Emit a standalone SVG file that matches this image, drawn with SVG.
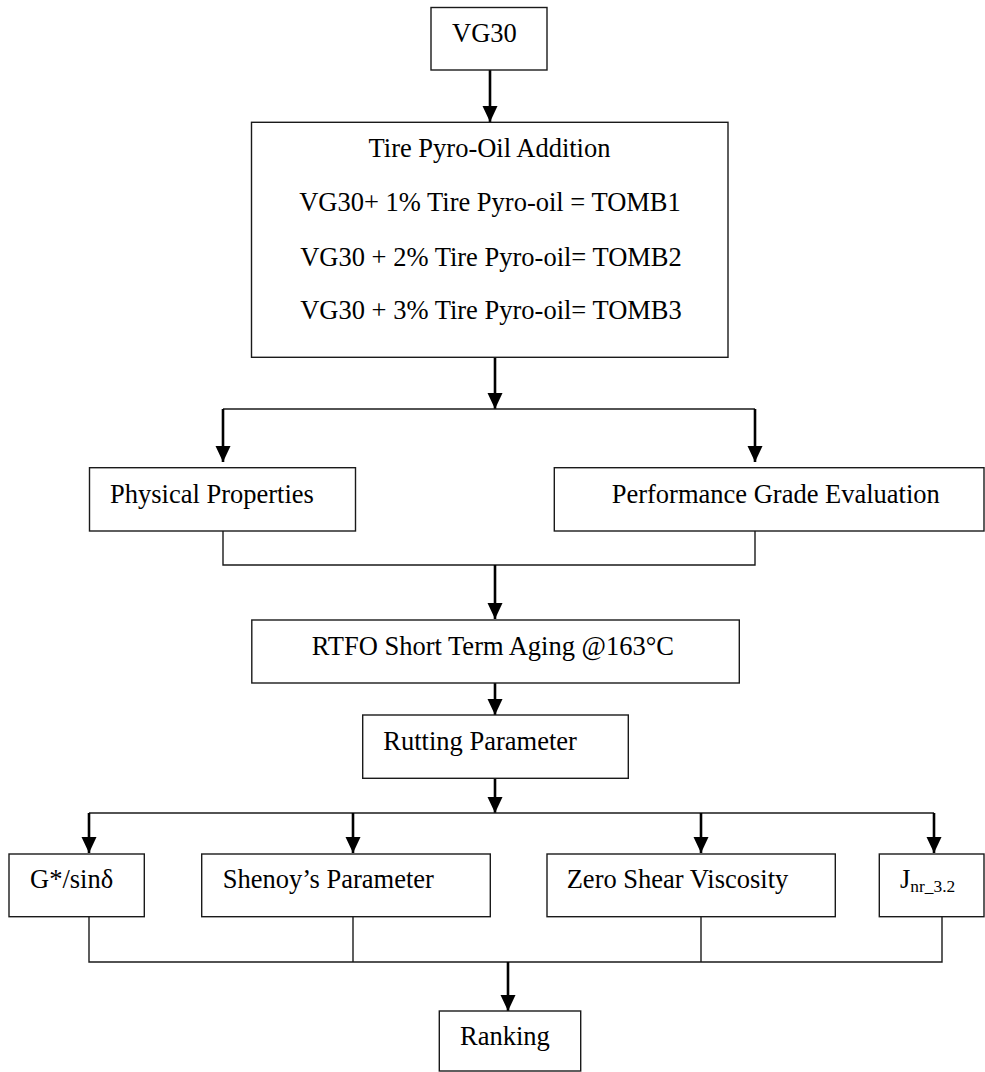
<svg xmlns="http://www.w3.org/2000/svg" width="985" height="1072" viewBox="0 0 985 1072" font-family="Liberation Serif, Times New Roman, Times, serif">
<style>
.box{fill:#fff;stroke:#1a1a1a;stroke-width:1.4}
.t{font-family:'Liberation Serif','Times New Roman',Times,serif;font-size:26.5px;fill:#000}
.ln{fill:none;stroke:#1a1a1a;stroke-width:1.4}
.ar{fill:none;stroke:#000;stroke-width:2.6;marker-end:url(#ah)}
</style>
<defs>
<marker id="ah" markerUnits="userSpaceOnUse" markerWidth="16" markerHeight="16" refX="16" refY="8" orient="auto" viewBox="0 0 16 16">
<path d="M0,0.5 L16,8 L0,15.5 z" fill="#000"/>
</marker>
</defs>
<g id="connectors">
<line class="ar" x1="490" y1="70" x2="490" y2="122"/>
<line class="ar" x1="495" y1="357" x2="495" y2="409"/>
<polyline class="ln" points="223,409 755,409"/>
<line class="ar" x1="223" y1="409" x2="223" y2="462"/>
<line class="ar" x1="755" y1="409" x2="755" y2="462"/>
<polyline class="ln" points="223,531 223,565 755,565 755,531"/>
<line class="ar" x1="495" y1="565" x2="495" y2="619"/>
<line class="ar" x1="495" y1="683" x2="495" y2="715"/>
<line class="ar" x1="495" y1="778" x2="495" y2="813"/>
<polyline class="ln" points="89,813 934,813"/>
<line class="ar" x1="89" y1="813" x2="89" y2="853"/>
<line class="ar" x1="353" y1="813" x2="353" y2="853"/>
<line class="ar" x1="701" y1="813" x2="701" y2="853"/>
<line class="ar" x1="934" y1="813" x2="934" y2="853"/>
<polyline class="ln" points="89,917 89,962 942,962 942,917"/>
<line class="ln" x1="353" y1="917" x2="353" y2="962"/>
<line class="ln" x1="701" y1="917" x2="701" y2="962"/>
<line class="ar" x1="508" y1="962" x2="508" y2="1011"/>
</g>
<g id="vg30">
<rect class="box" x="431" y="7.5" width="116" height="62.5"/>
<text class="t" x="452" y="41.7">VG30</text>
</g>
<g id="addition">
<rect class="box" x="251.5" y="122.3" width="476.5" height="235"/>
<text class="t" x="489.5" y="156.7" text-anchor="middle">Tire Pyro-Oil Addition</text>
<text class="t" x="490" y="211" text-anchor="middle">VG30+ 1% Tire Pyro-oil = TOMB1</text>
<text class="t" x="491" y="266" text-anchor="middle">VG30 + 2% Tire Pyro-oil= TOMB2</text>
<text class="t" x="491" y="319.3" text-anchor="middle">VG30 + 3% Tire Pyro-oil= TOMB3</text>
</g>
<g id="physical">
<rect class="box" x="89.5" y="467.7" width="266" height="63.3"/>
<text class="t" x="110" y="503.3">Physical Properties</text>
</g>
<g id="performance">
<rect class="box" x="554.3" y="467.7" width="429.7" height="63.3"/>
<text class="t" x="611.7" y="503.3">Performance Grade Evaluation</text>
</g>
<g id="rtfo">
<rect class="box" x="251.8" y="620" width="487.5" height="63"/>
<text class="t" x="311.7" y="655">RTFO Short Term Aging @163°C</text>
</g>
<g id="rutting">
<rect class="box" x="362.7" y="715" width="265.6" height="63.3"/>
<text class="t" x="383.3" y="750">Rutting Parameter</text>
</g>
<g id="gsin">
<rect class="box" x="9" y="854" width="135.3" height="62.7"/>
<text class="t" x="30" y="888.3">G*/sinδ</text>
</g>
<g id="shenoy">
<rect class="box" x="201.7" y="854" width="288.6" height="62.7"/>
<text class="t" x="222.7" y="888.3">Shenoy’s Parameter</text>
</g>
<g id="zsv">
<rect class="box" x="547" y="854" width="288.3" height="62.7"/>
<text class="t" x="566.7" y="888.3">Zero Shear Viscosity</text>
</g>
<g id="jnr">
<rect class="box" x="879.3" y="854" width="104.7" height="62.7"/>
<text class="t" x="900" y="888.3">J<tspan font-size="17.4px" dy="3.5">nr_3.2</tspan></text>
</g>
<g id="ranking">
<rect class="box" x="439.3" y="1011" width="141.4" height="60"/>
<text class="t" x="460" y="1045">Ranking</text>
</g>
</svg>
